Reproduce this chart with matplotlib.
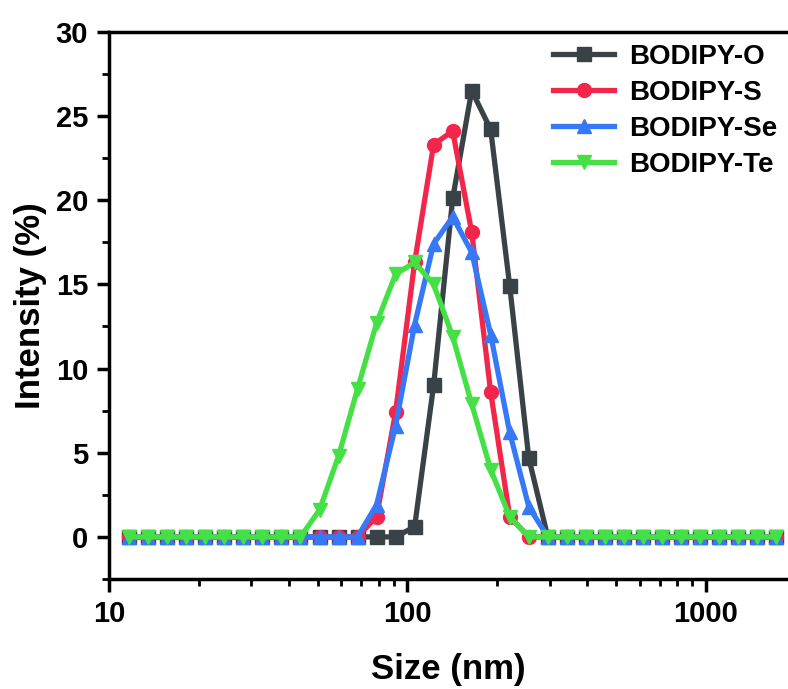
import matplotlib.pyplot as plt
from matplotlib.ticker import LogLocator, MultipleLocator, FixedLocator, NullFormatter

plt.rcParams['font.family'] = ['Liberation Sans', 'DejaVu Sans']
plt.rcParams['font.weight'] = 'bold'

# DLS size bins (nm)
size = [11.7, 13.54, 15.69, 18.17, 21.04, 24.36, 28.21, 32.67, 37.84, 43.82,
        50.75, 58.77, 68.06, 78.82, 91.28, 105.7, 122.4, 141.8, 164.2, 190.1,
        220.2, 255.0, 295.3, 342.0, 396.1, 458.7, 531.2, 615.1, 712.4, 825.0,
        955.4, 1106, 1281, 1484, 1718]

# intensity (%) for each bin, only the nonzero part is listed by index
zeros = [0.0] * len(size)

int_o = list(zeros)
int_o[15:22] = [0.6, 9.0, 20.1, 26.5, 24.2, 14.9, 4.7]

int_s = list(zeros)
int_s[13:21] = [1.2, 7.4, 16.3, 23.3, 24.1, 18.1, 8.6, 1.2]

int_se = list(zeros)
int_se[13:22] = [1.9, 6.6, 12.6, 17.4, 19.0, 16.9, 12.0, 6.2, 1.8]

int_te = list(zeros)
int_te[10:21] = [1.6, 4.8, 8.8, 12.7, 15.6, 16.3, 15.0, 11.9, 7.9, 4.0, 1.2]

labels = ["BODIPY-O", "BODIPY-S", "BODIPY-Se", "BODIPY-Te"]
colors = ["#394247", "#f2264b", "#3579f6", "#45e045"]
markers = ["s", "o", "^", "v"]

fig = plt.figure(figsize=(7.88, 6.89), dpi=100)
ax = fig.add_axes([109 / 788, 1 - 579 / 689, 1 - 109 / 788, (579 - 31.7) / 689])

for y, lab, c, m in zip([int_o, int_s, int_se, int_te], labels, colors, markers):
    ax.plot(size, y, color=c, marker=m, lw=3.8, ms=10, label=lab)

ax.set_xscale("log")
ax.set_xlim(10, 1885)
ax.set_ylim(-2.5, 30)

ax.xaxis.set_major_locator(FixedLocator([10, 100, 1000]))
ax.set_xticklabels(["10", "100", "1000"])
ax.xaxis.set_minor_locator(LogLocator(base=10, subs=range(2, 10)))
ax.xaxis.set_minor_formatter(NullFormatter())
ax.yaxis.set_major_locator(MultipleLocator(5))
ax.yaxis.set_minor_locator(MultipleLocator(2.5))

for side in ["left", "bottom", "top"]:
    ax.spines[side].set_linewidth(2.5)
ax.spines["right"].set_visible(False)

ax.tick_params(which="major", direction="out", length=9, width=2.5, labelsize=21, pad=6)
ax.tick_params(which="minor", direction="out", length=5, width=2.0)
ax.tick_params(axis="y", which="both", right=False)

ax.set_xlabel("Size (nm)", fontsize=25, fontweight="bold", labelpad=18)
ax.set_ylabel("Intensity (%)", fontsize=25, fontweight="bold", labelpad=6)

ax.legend(loc="upper left", bbox_to_anchor=(0.654, 0.978), frameon=False,
          fontsize=20, handlelength=2.2, handletextpad=0.55, labelspacing=0.36,
          borderpad=0, borderaxespad=0)

fig.savefig("out.png", dpi=100)
